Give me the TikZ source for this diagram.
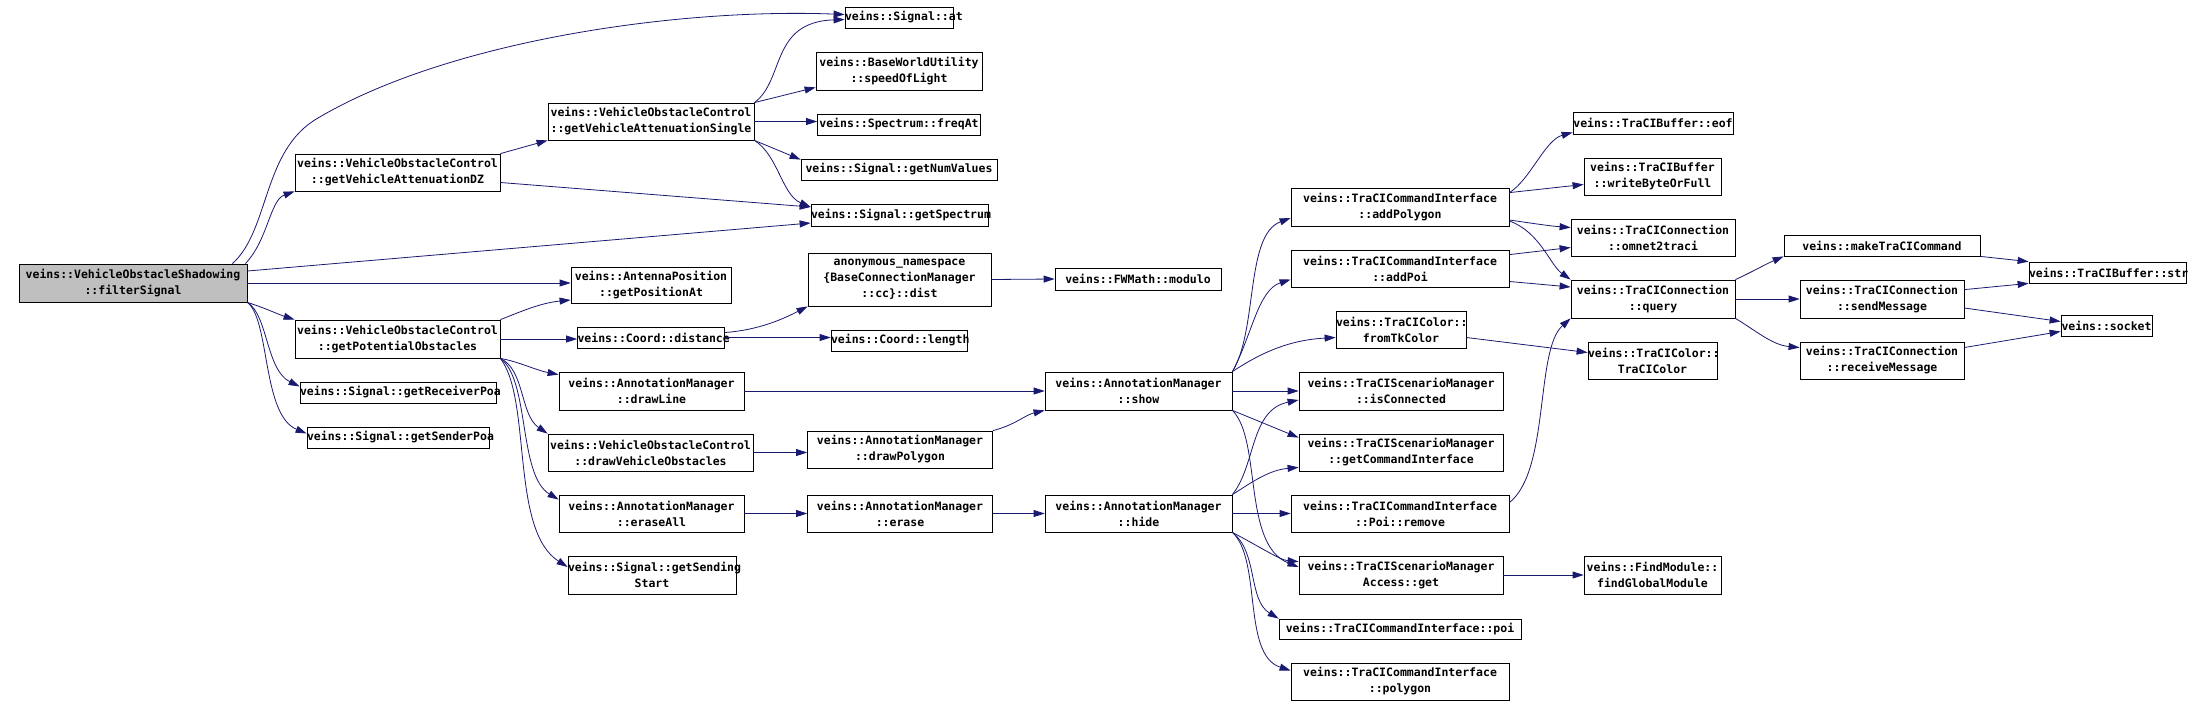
\documentclass[tikz,border=0pt]{standalone}
\usepackage{fontspec}
\setmonofont[HyphenChar=None]{DejaVu Sans Mono}
\usetikzlibrary{arrows.meta}
\definecolor{edgeBlue}{RGB}{25,25,112}
\definecolor{rootGrey}{RGB}{191,191,191}

\begin{document}
\begin{tikzpicture}[x=1pt, y=-1pt,
    fn/.style={rectangle, draw=black, fill=white, line width=0.8pt, inner sep=0pt, align=center, font=\ttfamily\bfseries\fontsize{11.5}{16}\selectfont},
    sz/.style 2 args={text width=#1pt, minimum height=#2pt},
    arr/.style={-{Triangle[length=11pt, width=7pt]}, line width=0.8pt, edgeBlue}
  ]
    \useasboundingbox (0,0) rectangle (2201,707);

    \node[fn, sz={228}{38}, fill=rootGrey] (root) at (133,283) {veins::VehicleObstacleShadowing\\::filterSignal};
    \node[fn, sz={205}{37}] (dz) at (397.5,172.5) {veins::VehicleObstacleControl\\::getVehicleAttenuationDZ};
    \node[fn, sz={205}{38}] (potobs) at (397.5,339) {veins::VehicleObstacleControl\\::getPotentialObstacles};
    \node[fn, sz={196}{21}] (recvpoa) at (398,392.5) {veins::Signal::getReceiverPoa};
    \node[fn, sz={182}{21}] (sendpoa) at (398,437.5) {veins::Signal::getSenderPoa};

    \node[fn, sz={206}{37}] (single) at (651,121.5) {veins::VehicleObstacleControl\\::getVehicleAttenuationSingle};
    \node[fn, sz={160}{36}] (posat) at (651,285) {veins::AntennaPosition\\::getPositionAt};
    \node[fn, sz={147}{21}] (cdist) at (651,337.5) {veins::Coord::distance};
    \node[fn, sz={185}{38}] (drawline) at (651.5,391) {veins::AnnotationManager\\::drawLine};
    \node[fn, sz={205}{37}] (drawveh) at (650.5,452.5) {veins::VehicleObstacleControl\\::drawVehicleObstacles};
    \node[fn, sz={185}{37}] (eraseall) at (651.5,513.5) {veins::AnnotationManager\\::eraseAll};
    \node[fn, sz={168}{38}] (sendstart) at (652,575) {veins::Signal::getSending\\Start};

    \node[fn, sz={108}{21}] (sigat) at (899,17.5) {veins::Signal::at};
    \node[fn, sz={166}{38}] (speed) at (899,71) {veins::BaseWorldUtility\\::speedOfLight};
    \node[fn, sz={163}{21}] (freq) at (899,124.5) {veins::Spectrum::freqAt};
    \node[fn, sz={196}{21}] (numval) at (899,169.5) {veins::Signal::getNumValues};
    \node[fn, sz={177}{22}] (spectrum) at (899.5,215) {veins::Signal::getSpectrum};
    \node[fn, sz={183}{53}] (anondist) at (899.5,279.5) {anonymous\_namespace\\\{BaseConnectionManager\\::cc\}::dist};
    \node[fn, sz={136}{21}] (clength) at (899,340.5) {veins::Coord::length};
    \node[fn, sz={185}{37}] (drawpoly) at (900,449.5) {veins::AnnotationManager\\::drawPolygon};
    \node[fn, sz={185}{37}] (erase) at (900,513.5) {veins::AnnotationManager\\::erase};

    \node[fn, sz={166}{22}] (modulo) at (1138,279) {veins::FWMath::modulo};
    \node[fn, sz={187}{38}] (show) at (1138.5,391) {veins::AnnotationManager\\::show};
    \node[fn, sz={187}{37}] (hide) at (1138.5,513.5) {veins::AnnotationManager\\::hide};

    \node[fn, sz={218}{38}] (addpolygon) at (1400,207) {veins::TraCICommandInterface\\::addPolygon};
    \node[fn, sz={218}{37}] (addpoi) at (1400,268.5) {veins::TraCICommandInterface\\::addPoi};
    \node[fn, sz={130}{37}] (fromtk) at (1401,329.5) {veins::TraCIColor::\\fromTkColor};
    \node[fn, sz={204}{38}] (isconn) at (1401,391) {veins::TraCIScenarioManager\\::isConnected};
    \node[fn, sz={204}{37}] (getci) at (1401,452.5) {veins::TraCIScenarioManager\\::getCommandInterface};
    \node[fn, sz={218}{37}] (poiremove) at (1400,513.5) {veins::TraCICommandInterface\\::Poi::remove};
    \node[fn, sz={204}{38}] (accget) at (1401,575) {veins::TraCIScenarioManager\\Access::get};
    \node[fn, sz={242}{20}] (poi) at (1400,629) {veins::TraCICommandInterface::poi};
    \node[fn, sz={218}{37}] (polygon) at (1400,681.5) {veins::TraCICommandInterface\\::polygon};

    \node[fn, sz={160}{22}] (eof) at (1653,123) {veins::TraCIBuffer::eof};
    \node[fn, sz={137}{37}] (writebyte) at (1652.5,176.5) {veins::TraCIBuffer\\::writeByteOrFull};
    \node[fn, sz={164}{37}] (omnet) at (1653,237.5) {veins::TraCIConnection\\::omnet2traci};
    \node[fn, sz={164}{38}] (query) at (1653,299) {veins::TraCIConnection\\::query};
    \node[fn, sz={129}{37}] (tracicolor) at (1652.5,360.5) {veins::TraCIColor::\\TraCIColor};
    \node[fn, sz={137}{38}] (findglobal) at (1652.5,575) {veins::FindModule::\\findGlobalModule};

    \node[fn, sz={196}{21}] (make) at (1882,245.5) {veins::makeTraCICommand};
    \node[fn, sz={164}{38}] (sendmsg) at (1882,299) {veins::TraCIConnection\\::sendMessage};
    \node[fn, sz={164}{37}] (recvmsg) at (1882,360.5) {veins::TraCIConnection\\::receiveMessage};
    \node[fn, sz={157}{21}] (str) at (2107.5,272.5) {veins::TraCIBuffer::str};
    \node[fn, sz={91}{21}] (socket) at (2106.5,325.5) {veins::socket};

    \draw[arr] ([xshift=-15pt]root.north east) .. controls (270,230) and (262,150) .. (318,118) .. controls (450,40) and (680,8) .. ([yshift=3pt]sigat.west);
    \draw[arr] ([xshift=-2pt]root.north east) .. controls (268,240) and (270,200) .. (dz.south west);
    \draw[arr] ([yshift=12pt]root.east) -- ([yshift=-8pt]spectrum.west);
    \draw[arr] (root.east) -- (root.east -| posat.west);
    \draw[arr] (root.south east) .. controls (265,308) and (280,315) .. (potobs.north west);
    \draw[arr] (root.south east) .. controls (268,315) and (266,370) .. ([yshift=6pt]recvpoa.west);
    \draw[arr] (root.south east) .. controls (270,320) and (262,415) .. ([yshift=4pt]sendpoa.west);

    \draw[arr] (dz.north east) -- (single.south west);
    \draw[arr] ([yshift=-10pt]dz.east) -- ([yshift=8pt]spectrum.west);

    \draw[arr] (potobs.north east) .. controls (520,312) and (540,303) .. ([yshift=-15pt]posat.west);
    \draw[arr] (potobs.east) -- (potobs.east -| cdist.west);
    \draw[arr] (potobs.south east) .. controls (520,362) and (535,370) .. ([yshift=-3pt]drawline.north west);
    \draw[arr] (potobs.south east) .. controls (525,370) and (520,415) .. (drawveh.north west);
    \draw[arr] (potobs.south east) .. controls (530,380) and (518,475) .. ([yshift=-5pt]eraseall.north west);
    \draw[arr] (potobs.south east) .. controls (532,400) and (510,530) .. ([yshift=8pt]sendstart.west);

    \draw[arr] (single.north east) .. controls (785,80) and (770,22) .. ([yshift=-2pt]sigat.west);
    \draw[arr] (single.north east) -- ([yshift=3pt]speed.south west);
    \draw[arr] (single.east) -- (single.east -| freq.west);
    \draw[arr] (single.south east) -- ([yshift=-1pt]numval.north west);
    \draw[arr] (single.south east) .. controls (778,155) and (782,195) .. ([yshift=8pt]spectrum.west);

    \draw[arr] ([yshift=5pt]cdist.east) .. controls (760,330) and (785,318) .. (anondist.south west);
    \draw[arr] (cdist.east) -- (cdist.east -| clength.west);
    \draw[arr] (anondist.east) -- (modulo.west);

    \draw[arr] (drawline.east) -- (show.west);
    \draw[arr] (drawveh.east) -- (drawveh.east -| drawpoly.west);
    \draw[arr] (drawpoly.north east) .. controls (1015,425) and (1025,415) .. (show.south west);
    \draw[arr] (eraseall.east) -- (erase.west);
    \draw[arr] (erase.east) -- (hide.west);

    \draw[arr] (show.north east) .. controls (1258,330) and (1245,235) .. ([yshift=-11pt]addpolygon.west);
    \draw[arr] (show.north east) .. controls (1252,335) and (1258,290) .. ([yshift=-11pt]addpoi.west);
    \draw[arr] (show.north east) .. controls (1262,352) and (1290,340) .. ([yshift=-8pt]fromtk.west);
    \draw[arr] (show.east) -- (isconn.west);
    \draw[arr] (show.south east) -- ([yshift=-4pt]getci.north west);
    \draw[arr] (show.south east) .. controls (1262,440) and (1242,545) .. ([yshift=8pt]accget.west);

    \draw[arr] (hide.north east) .. controls (1256,465) and (1250,410) .. ([yshift=-9pt]isconn.west);
    \draw[arr] (hide.north east) .. controls (1255,480) and (1270,470) .. ([yshift=4pt]getci.south west);
    \draw[arr] (hide.east) -- (poiremove.west);
    \draw[arr] (hide.south east) .. controls (1262,548) and (1280,560) .. ([yshift=-6pt]accget.north west);
    \draw[arr] (hide.south east) .. controls (1258,552) and (1248,600) .. (poi.north west);
    \draw[arr] (hide.south east) .. controls (1262,560) and (1242,655) .. ([yshift=11pt]polygon.west);

    \draw[arr] ([yshift=-5pt]addpolygon.north east) .. controls (1530,180) and (1545,140) .. ([yshift=2pt]eof.south west);
    \draw[arr] ([yshift=-5pt]addpolygon.north east) -- ([yshift=-8pt]writebyte.west);
    \draw[arr] ([yshift=-13pt]addpolygon.east) .. controls (1530,223) and (1550,226) .. ([yshift=10pt]omnet.west);
    \draw[arr] ([yshift=-14pt]addpolygon.east) .. controls (1540,232) and (1550,265) .. (query.north west);
    \draw[arr] ([yshift=-5pt]addpoi.north east) -- ([yshift=-10pt]omnet.west);
    \draw[arr] ([yshift=-13pt]addpoi.east) -- ([yshift=12pt]query.west);
    \draw[arr] ([yshift=-8pt]poiremove.north east) .. controls (1550,470) and (1535,350) .. (query.south west);
    \draw[arr] ([yshift=-8pt]fromtk.east) -- ([yshift=8pt]tracicolor.west);
    \draw[arr] (accget.east) -- (findglobal.west);

    \draw[arr] (query.north east) .. controls (1752,272) and (1766,264) .. (make.south west);
    \draw[arr] (query.east) -- (sendmsg.west);
    \draw[arr] (query.south east) .. controls (1755,330) and (1772,345) .. ([yshift=13pt]recvmsg.west);
    \draw[arr] (make.south east) -- (str.north west);
    \draw[arr] ([yshift=-10pt]sendmsg.north east) -- (str.south west);
    \draw[arr] ([yshift=-9pt]sendmsg.east) -- ([yshift=4pt]socket.west);
    \draw[arr] ([yshift=13pt]recvmsg.east) -- ([yshift=-6pt]socket.west);
  \end{tikzpicture}
\end{document}
